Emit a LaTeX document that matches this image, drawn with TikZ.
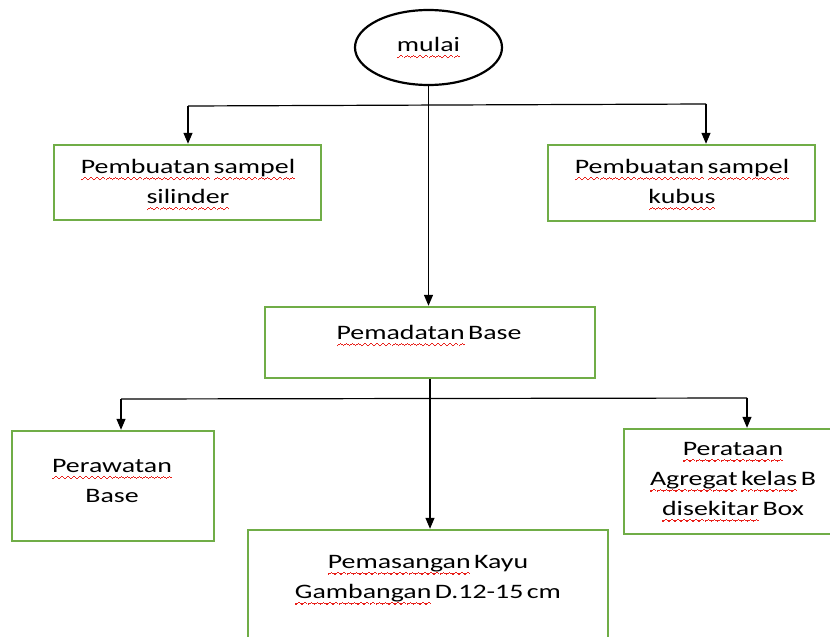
\documentclass[tikz,border=0pt]{standalone}
\usepackage{fontspec}
\setmainfont[WordSpace=0.55]{Carlito}
\usetikzlibrary{shapes.geometric,arrows.meta}
\definecolor{boxgreen}{HTML}{70AD47}
\definecolor{squig}{HTML}{E8201A}
\newsavebox\wavebox
\newlength\wordwd
\newcommand\sq[1]{\settowidth\wordwd{#1}\leavevmode\rlap{\raisebox{-6.3pt}{\hbox to\wordwd{\xleaders\copy\wavebox\hfil}}}#1}
\begin{document}
\sbox\wavebox{\color{squig}\rule[0pt]{1.1pt}{1.25pt}\rule[0.9pt]{1.1pt}{1.25pt}\rule[1.8pt]{1.1pt}{1.25pt}\rule[0.9pt]{1.1pt}{1.25pt}}%
\begin{tikzpicture}[x=1pt,y=-1pt,
  box/.style={draw=boxgreen,line width=2.4pt,inner sep=0pt},
  txt/.style={align=center,font=\fontsize{20.5}{30}\selectfont,inner sep=0pt,xscale=1.36,transform shape},
  conn/.style={line width=1.2pt},
  arr/.style={conn,-{Triangle[length=11pt,width=9pt]}}]
\useasboundingbox (0,0) rectangle (830,637);
\clip (0,0) rectangle (830,637);
\fill[white] (0,0) rectangle (830,637);
% shapes
\node[draw,ellipse,line width=2.2pt,minimum width=147pt,minimum height=75pt,inner sep=0pt] (m) at (428.5,47.5) {};
\node[box,minimum width=267pt,minimum height=75pt] (bl) at (187.5,182.5) {};
\node[box,minimum width=267pt,minimum height=76pt] (br) at (681.5,183) {};
\node[box,minimum width=330pt,minimum height=71pt] (pb) at (430,342.5) {};
\node[box,minimum width=202pt,minimum height=110pt] (pw) at (113,486) {};
\node[box,minimum width=221pt,minimum height=105pt] (pr) at (734.5,481.5) {};
\node[box,minimum width=360pt,minimum height=130pt] (pk) at (428,595) {};
% texts
\node[txt] (tm) at (428.5,48) {\sq{mulai}};
\node[txt] (tbl) at (188,185) {\sq{Pembuatan} \sq{sampel}\\\sq{silinder}};
\node[txt] (tbr) at (682,185) {\sq{Pembuatan} \sq{sampel}\\\sq{kubus}};
\node[txt] (tpb) at (429,336) {\sq{Pemadatan} Base};
\node[txt] (tpw) at (112,481) {\sq{Perawatan}\\Base};
\node[txt] (tpr) at (733,482) {\sq{Perataan}\\\sq{Agregat} \sq{kelas} B\\\sq{disekitar} Box};
\node[txt] (tpk) at (428,580) {\sq{Pemasangan} Kayu\\\sq{Gambangan} D.12-15 cm};
% connectors
\coordinate (j1l) at (188,106);
\coordinate (j1r) at (706,104);
\coordinate (j2l) at (121,399);
\coordinate (j2r) at (747,398);
\draw[arr] (m.south) -- (m.south |- pb.north);
\draw[conn] (j1l) -- (j1r);
\draw[arr] (j1l) -- (j1l |- bl.north);
\draw[arr] (j1r) -- (j1r |- br.north);
\draw[arr] (pb.south) -- (pb.south |- pk.north);
\draw[conn] (j2l) -- (j2r);
\draw[arr] (j2l) -- (j2l |- pw.north);
\draw[arr] (j2r) -- (j2r |- pr.north);
\end{tikzpicture}
\end{document}
